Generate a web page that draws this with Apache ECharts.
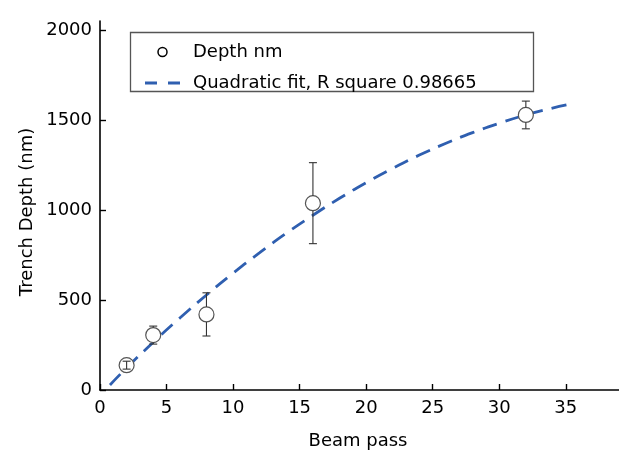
<!DOCTYPE html>
<html>
<head>
<meta charset="utf-8">
<script src="https://cdn.jsdelivr.net/npm/echarts@6/dist/echarts.min.js"></script>
<style>html,body{margin:0;padding:0;background:#fff;}#chart{width:619px;height:452px;}</style>
</head>
<body>
<div id="chart"></div>
<script>
// Measured data
const beamPass = [2, 4, 8, 16, 32];
const depth = [138, 305, 420, 1038, 1528];
const depthErr = [22, 50, 120, 225, 77];

// Quadratic fit curve
const fitX = [0.75, 2, 4, 6, 8, 10, 12, 14, 16, 18, 20, 22, 24, 26, 28, 30, 32, 34, 35.4];
const fitY = [28, 123, 265, 400, 528, 649, 763, 871, 971, 1065, 1152, 1232, 1305, 1371, 1430, 1482, 1528, 1566, 1589];

const xTicks = [0, 5, 10, 15, 20, 25, 30, 35];
const yTicks = [0, 500, 1000, 1500, 2000];

const seriesNames = ['Depth nm', 'Quadratic fit, R square 0.98665'];
const xTitle = 'Beam pass';
const yTitle = 'Trench Depth (nm)';

const FONT = 'DejaVu Sans';
const chart = echarts.init(document.getElementById('chart'), null, {renderer: 'canvas'});

const pts = beamPass.map((x, i) => [x, depth[i]]);
const errData = beamPass.map((x, i) => [x, depth[i], depthErr[i]]);
const fitData = fitX.map((x, i) => [x, fitY[i]]);

const R = 7.5;
const option = {
  animation: false,
  backgroundColor: '#fff',
  grid: {left: 100, right: 0, top: 21, bottom: 62, containLabel: false},
  xAxis: {
    type: 'value', min: 0, max: 39,
    axisLine: {show: true, onZero: false, lineStyle: {color: '#000', width: 1.6}},
    axisTick: {show: true, inside: true, length: 6, customValues: xTicks, lineStyle: {color: '#000', width: 1.4}},
    axisLabel: {customValues: xTicks, color: '#000', fontFamily: FONT, fontSize: 18, margin: 9, formatter: v => String(v)},
    splitLine: {show: false}
  },
  yAxis: {
    type: 'value', min: 0, max: 2050,
    axisLine: {show: true, onZero: false, lineStyle: {color: '#000', width: 1.6}},
    axisTick: {show: true, inside: true, length: 6, customValues: yTicks, lineStyle: {color: '#000', width: 1.4}},
    axisLabel: {customValues: yTicks, color: '#000', fontFamily: FONT, fontSize: 18, margin: 8, formatter: v => String(v)},
    splitLine: {show: false}
  },
  legend: {
    orient: 'vertical', left: 140, top: 38, itemWidth: 35, itemHeight: 9, itemGap: 13,
    data: [
      {name: seriesNames[0], icon: 'circle', itemStyle: {color: '#fff', borderColor: '#000', borderWidth: 1.5}},
      {name: seriesNames[1], icon: 'path://M0 0h12v2.8H0zM23 0h12v2.8H23z', itemStyle: {color: '#2f5fb0', borderWidth: 0}}
    ],
    textStyle: {color: '#000', fontFamily: FONT, fontSize: 18, lineHeight: 18, padding: [0, 0, 0, 8]}
  },
  graphic: [
    {type: 'rect', shape: {x: 130.5, y: 32.5, width: 403, height: 59}, style: {fill: 'none', stroke: '#555', lineWidth: 1.3}, z: 0},
    {type: 'text', x: 358, y: 441, style: {text: xTitle, fill: '#000', font: '18px "DejaVu Sans"', align: 'center', verticalAlign: 'middle'}},
    {type: 'text', x: 27, y: 212, rotation: Math.PI / 2, style: {text: yTitle, fill: '#000', font: '18px "DejaVu Sans"', align: 'center', verticalAlign: 'middle'}}
  ],
  series: [
    {
      name: seriesNames[1], type: 'line', data: fitData, smooth: true, symbol: 'none',
      lineStyle: {color: '#2f5fb0', width: 2.8, type: [15, 9]}, z: 2
    },
    {
      name: seriesNames[0], type: 'scatter', data: pts, symbol: 'circle', symbolSize: 15,
      itemStyle: {color: '#fff', borderColor: '#555', borderWidth: 1.2, opacity: 1}, z: 3
    },
    {
      name: 'err', type: 'custom', data: errData, z: 4,
      renderItem: function (params, api) {
        const x = api.value(0), y = api.value(1), e = api.value(2);
        const c = api.coord([x, y]);
        const t = api.coord([x, y + e]);
        const b = api.coord([x, y - e]);
        const hw = 4;
        const st = {stroke: '#333', lineWidth: 1.1, fill: 'none'};
        const ch = [
          {type: 'line', shape: {x1: c[0] - hw, y1: t[1], x2: c[0] + hw, y2: t[1]}, style: st},
          {type: 'line', shape: {x1: c[0] - hw, y1: b[1], x2: c[0] + hw, y2: b[1]}, style: st}
        ];
        if (t[1] < c[1] - R) ch.push({type: 'line', shape: {x1: c[0], y1: t[1], x2: c[0], y2: c[1] - R}, style: st});
        else ch.push({type: 'line', shape: {x1: c[0], y1: t[1], x2: c[0], y2: b[1]}, style: st});
        if (b[1] > c[1] + R) ch.push({type: 'line', shape: {x1: c[0], y1: c[1] + R, x2: c[0], y2: b[1]}, style: st});
        return {type: 'group', children: ch};
      }
    }
  ]
};
chart.setOption(option);
</script>
</body>
</html>
